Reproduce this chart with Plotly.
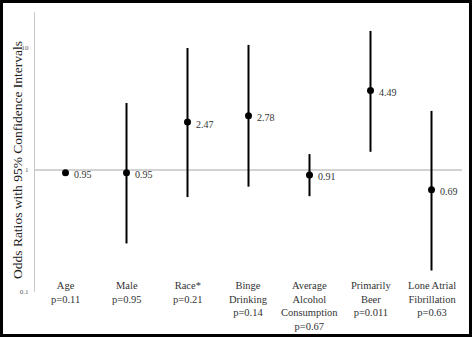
import numpy as np
import plotly.graph_objects as go

categories = ["Age", "Male", "Race*", "Binge<br>Drinking",
              "Average<br>Alcohol<br>Consumption", "Primarily<br>Beer",
              "Lone Atrial<br>Fibrillation"]
p_values = ["0.11", "0.95", "0.21", "0.14", "0.67", "0.011", "0.63"]
odds_ratio = [0.95, 0.95, 2.47, 2.78, 0.91, 4.49, 0.69]
ci_low = [0.93, 0.25, 0.60, 0.73, 0.61, 1.41, 0.15]
ci_high = [0.97, 3.54, 10.0, 10.6, 1.35, 13.8, 3.05]
y_ticks = [0.1, 1, 10]
y_tick_labels = ["0.1", "1", "10"]

FONT = "Liberation Serif"
W, H = 472, 337
ML, MR, MT, MB = 35, 10, 12, 45
PW, PH = W - ML - MR, H - MT - MB

err_plus = [h - o for h, o in zip(ci_high, odds_ratio)]
err_minus = [o - l for o, l in zip(odds_ratio, ci_low)]

fig = go.Figure()
fig.add_trace(go.Scatter(
    x=categories, y=odds_ratio, mode="markers",
    marker=dict(color="black", size=7),
    error_y=dict(type="data", symmetric=False, array=err_plus,
                 arrayminus=err_minus, color="black", thickness=2, width=0),
    showlegend=False, hoverinfo="skip",
))

annotations = []
for c, o in zip(categories, odds_ratio):
    annotations.append(dict(
        x=c, y=np.log10(o), xref="x", yref="y", text=f"{o:.2f}",
        showarrow=False, xanchor="left", yanchor="middle", xshift=6, yshift=-2,
        font=dict(family=FONT, size=10, color="#333333"),
    ))
for c, p in zip(categories, p_values):
    annotations.append(dict(
        x=c, y=14 / PH, xref="x", yref="paper", text=f"{c}<br>p={p}",
        showarrow=False, xanchor="center", yanchor="top",
        font=dict(family=FONT, size=10.5, color="#333333"),
    ))
annotations.append(dict(
    x=(17 - ML) / PW, y=(H - MB - 160) / PH, xref="paper", yref="paper",
    text="Odds Ratios with 95% Confidence Intervals", textangle=-90,
    showarrow=False, xanchor="center", yanchor="middle",
    font=dict(family=FONT, size=13.5, color="#222222"),
))

shapes = [
    dict(type="line", xref="paper", yref="y", x0=0, x1=1, y0=1, y1=1,
         line=dict(color="#a6a6a6", width=1), layer="below"),
    dict(type="rect", xref="paper", yref="paper",
         x0=(1.5 - ML) / PW, x1=(W - 1.5 - ML) / PW,
         y0=(H - MB - (H - 1.5)) / PH, y1=(H - MB - 1.5) / PH,
         line=dict(color="black", width=3), fillcolor="rgba(0,0,0,0)"),
]

fig.update_layout(
    width=W, height=H,
    margin=dict(l=ML, r=MR, t=MT, b=MB, pad=0),
    paper_bgcolor="white", plot_bgcolor="white",
    font=dict(family=FONT, color="#333333"),
    xaxis=dict(type="category", range=[-0.5, 6.5], showticklabels=False,
               showgrid=False, zeroline=False, showline=False, ticks=""),
    yaxis=dict(type="log", range=[-1, 1.295], tickvals=y_ticks,
               ticktext=y_tick_labels, tickfont=dict(family=FONT, size=7, color="#595959"),
               showgrid=False, zeroline=False, showline=True, linecolor="#c8c8c8",
               linewidth=1, ticks="", ticklabelstandoff=4),
    annotations=annotations, shapes=shapes,
)

fig.write_html("out.html")
